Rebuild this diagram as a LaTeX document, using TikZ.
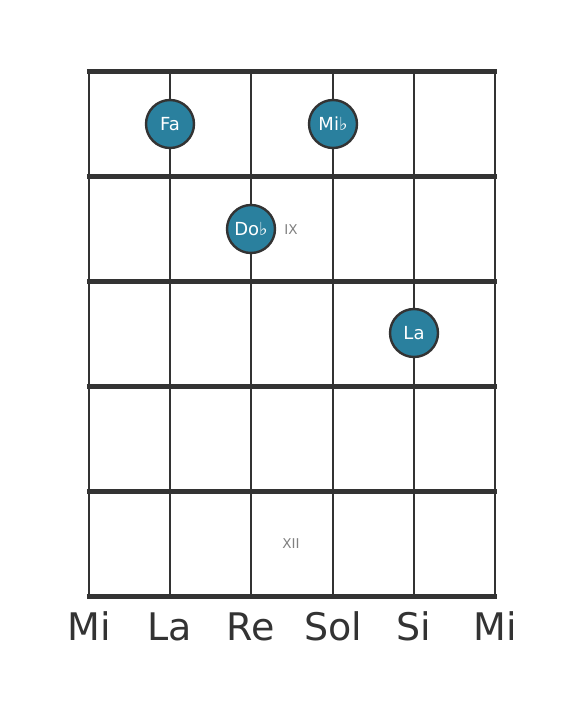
\documentclass[tikz,border=0pt]{standalone}
\usepackage{fontspec}
\setmainfont{DejaVu Sans}
\usepackage{tikz}
\definecolor{notefill}{RGB}{42,128,158}
\definecolor{gridgray}{RGB}{51,51,51}

\begin{document}
\begin{tikzpicture}[x=1pt,y=-1pt]
		\tikzstyle{note} = [draw=gridgray, line width=2.4pt, circle, fill=notefill, minimum size=48pt, inner sep=0pt, text=white, font=\fontsize{18}{18}\selectfont]
		\tikzstyle{fret} = [gridgray, line width=5pt]
		\tikzstyle{strline} = [gridgray, line width=2.8pt]
		\tikzstyle{fretmark} = [text=gray, font=\fontsize{13.5}{13.5}\selectfont]
		\tikzstyle{tuning} = [text=gridgray, font=\fontsize{38}{38}\selectfont]
		\useasboundingbox (0,0) rectangle (584,711);

		\foreach \x in {89,170,251,333,414,495}
			\draw[strline] (\x,72) -- (\x,596);
		\foreach \y in {72,177,281,386,491,596}
			\draw[fret] (86.75,\y) -- (497.25,\y);

		\node [note] (fa) at (170,124) {Fa};
		\node [note] (mib) at (333,124) {Mi♭};
		\node [note] (dob) at (251,229) {Do♭};
		\node [note] (la) at (414,333) {La};

		\node [fretmark] (ix) at (291,230) {IX};
		\node [fretmark] (xii) at (291,544) {XII};

		\node [tuning, anchor=base] (s6) at (89,640) {Mi};
		\node [tuning, anchor=base] (s5) at (170,640) {La};
		\node [tuning, anchor=base] (s4) at (251,640) {Re};
		\node [tuning, anchor=base] (s3) at (333,640) {Sol};
		\node [tuning, anchor=base] (s2) at (414,640) {Si};
		\node [tuning, anchor=base] (s1) at (495,640) {Mi};
	\end{tikzpicture}
\end{document}
